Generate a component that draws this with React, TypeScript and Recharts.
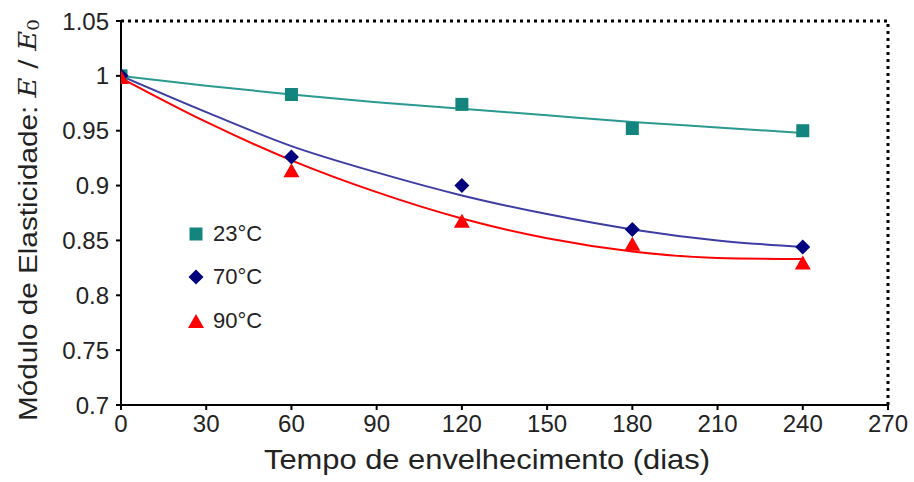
import React from "react";
import { ComposedChart, Line, Scatter, XAxis, YAxis, ReferenceLine } from "recharts";

// fitted curves, every 30 days
const fitDays = [0, 30, 60, 90, 120, 150, 180, 210, 240];
const fit23 = [1.0, 0.991, 0.983, 0.976, 0.97, 0.964, 0.958, 0.953, 0.948];
const fit70 = [1.0, 0.967, 0.936, 0.912, 0.891, 0.874, 0.86, 0.85, 0.844];
const fit90 = [0.998, 0.958, 0.923, 0.894, 0.87, 0.852, 0.84, 0.834, 0.833];

// measured points
const days = [0, 60, 120, 180, 240];
const e23 = [1.0, 0.983, 0.974, 0.952, 0.95];
const e70 = [1.0, 0.926, 0.9, 0.86, 0.844];
const e90 = [0.998, 0.913, 0.867, 0.846, 0.829];

const xTicks = [0, 30, 60, 90, 120, 150, 180, 210, 240, 270];
const yTicks = [0.7, 0.75, 0.8, 0.85, 0.9, 0.95, 1, 1.05];
const yTickLabels = ["0.7", "0.75", "0.8", "0.85", "0.9", "0.95", "1", "1.05"];

const FONT = "'Liberation Sans', Arial, sans-serif";
const MATH = "'DejaVu Serif', serif";
const TEAL = "#14857e";
const TEAL_LINE = "#2a9990";
const NAVY = "#00007f";
const BLUE_LINE = "#3d3da3";
const RED = "#ff0000";

const toRows = (xs: number[], ys: number[]) => xs.map((d, i) => ({ day: d, v: ys[i] }));

const Square = ({ cx, cy }: any) => (
  <rect x={cx - 6.5} y={cy - 6.5} width={13} height={13} fill={TEAL} />
);
const Diamond = ({ cx, cy }: any) => (
  <path d={`M${cx},${cy - 7.5} L${cx + 7.5},${cy} L${cx},${cy + 7.5} L${cx - 7.5},${cy} Z`} fill={NAVY} />
);
const Triangle = ({ cx, cy }: any) => (
  <path d={`M${cx},${cy - 8} L${cx + 8},${cy + 6} L${cx - 8},${cy + 6} Z`} fill={RED} />
);

const YTick = ({ x, y, payload }: any) => {
  const i = yTicks.indexOf(payload.value);
  return (
    <text x={x} y={y} textAnchor="end" dominantBaseline="central" fontFamily={FONT} fontSize={24} fill="#222">
      {i >= 0 ? yTickLabels[i] : payload.value}
    </text>
  );
};

const XTick = ({ x, y, payload }: any) => (
  <text x={x} y={y} textAnchor="middle" dominantBaseline="hanging" fontFamily={FONT} fontSize={24} fill="#222">
    {payload.value}
  </text>
);

const YTitle = () => (
  <text
    transform="translate(28,220) rotate(-90)"
    textAnchor="middle"
    dominantBaseline="central"
    fontFamily={FONT}
    fontSize={26}
    fill="#222"
    textLength={402}
    lengthAdjust="spacingAndGlyphs"
  >
    <tspan>Módulo de Elasticidade: </tspan>
    <tspan fontFamily={MATH} fontStyle="italic" fontSize={24}>E</tspan>
    <tspan fontFamily={MATH} fontSize={24}> / </tspan>
    <tspan fontFamily={MATH} fontStyle="italic" fontSize={24}>E</tspan>
    <tspan fontFamily={MATH} fontSize={16} dy={5}>0</tspan>
  </text>
);

const XTitle = ({ viewBox }: any) => (
  <text
    x={487}
    y={viewBox.y + 64}
    textAnchor="middle"
    fontFamily={FONT}
    fontSize={28}
    fill="#222"
    textLength={446}
    lengthAdjust="spacingAndGlyphs"
  >
    Tempo de envelhecimento (dias)
  </text>
);

const legendItems = [
  { name: "23°C", shape: "square" },
  { name: "70°C", shape: "diamond" },
  { name: "90°C", shape: "triangle" },
];

const LegendBox = () => (
  <div style={{ position: "absolute", left: 187, top: 212, fontFamily: FONT, fontSize: 22, color: "#222" }}>
    {legendItems.map((it) => (
      <div key={it.name} style={{ display: "flex", alignItems: "center", height: 43.5 }}>
        <svg width={18} height={18} style={{ marginRight: 8 }}>
          {it.shape === "square" && <Square cx={9} cy={9} />}
          {it.shape === "diamond" && <Diamond cx={9} cy={9} />}
          {it.shape === "triangle" && <Triangle cx={9} cy={10} />}
        </svg>
        <span>{it.name}</span>
      </div>
    ))}
  </div>
);

export default function App() {
  return (
    <div style={{ position: "absolute", left: 0, top: 0, width: 914, height: 482, background: "#fff" }}>
      <ComposedChart width={914} height={482} margin={{ top: 21, right: 26, bottom: 0, left: 50 }}>
        <XAxis
          type="number"
          dataKey="day"
          domain={[0, 270]}
          ticks={xTicks}
          allowDataOverflow
          height={77}
          stroke="#000"
          strokeWidth={2}
          tickSize={5}
          tickMargin={4}
          tick={<XTick />}
          label={<XTitle />}
        />
        <YAxis
          type="number"
          dataKey="v"
          domain={[0.7, 1.05]}
          ticks={yTicks}
          allowDataOverflow
          width={71}
          stroke="#000"
          strokeWidth={2}
          tickSize={5}
          tickMargin={7}
          tick={<YTick />}
          label={<YTitle />}
        />
        <ReferenceLine y={1.05} stroke="#000" strokeWidth={3} strokeDasharray="3 4" />
        <ReferenceLine x={270} stroke="#000" strokeWidth={3} strokeDasharray="3 4" />

        <Line data={toRows(fitDays, fit23)} dataKey="v" type="monotone" stroke={TEAL_LINE} strokeWidth={2} dot={false} isAnimationActive={false} />
        <Line data={toRows(fitDays, fit70)} dataKey="v" type="monotone" stroke={BLUE_LINE} strokeWidth={2} dot={false} isAnimationActive={false} />
        <Line data={toRows(fitDays, fit90)} dataKey="v" type="monotone" stroke={RED} strokeWidth={2} dot={false} isAnimationActive={false} />

        <Scatter data={toRows(days, e23)} dataKey="v" shape={<Square />} isAnimationActive={false} />
        <Scatter data={toRows(days, e70)} dataKey="v" shape={<Diamond />} isAnimationActive={false} />
        <Scatter data={toRows(days, e90)} dataKey="v" shape={<Triangle />} isAnimationActive={false} />
      </ComposedChart>
      <LegendBox />
    </div>
  );
}
